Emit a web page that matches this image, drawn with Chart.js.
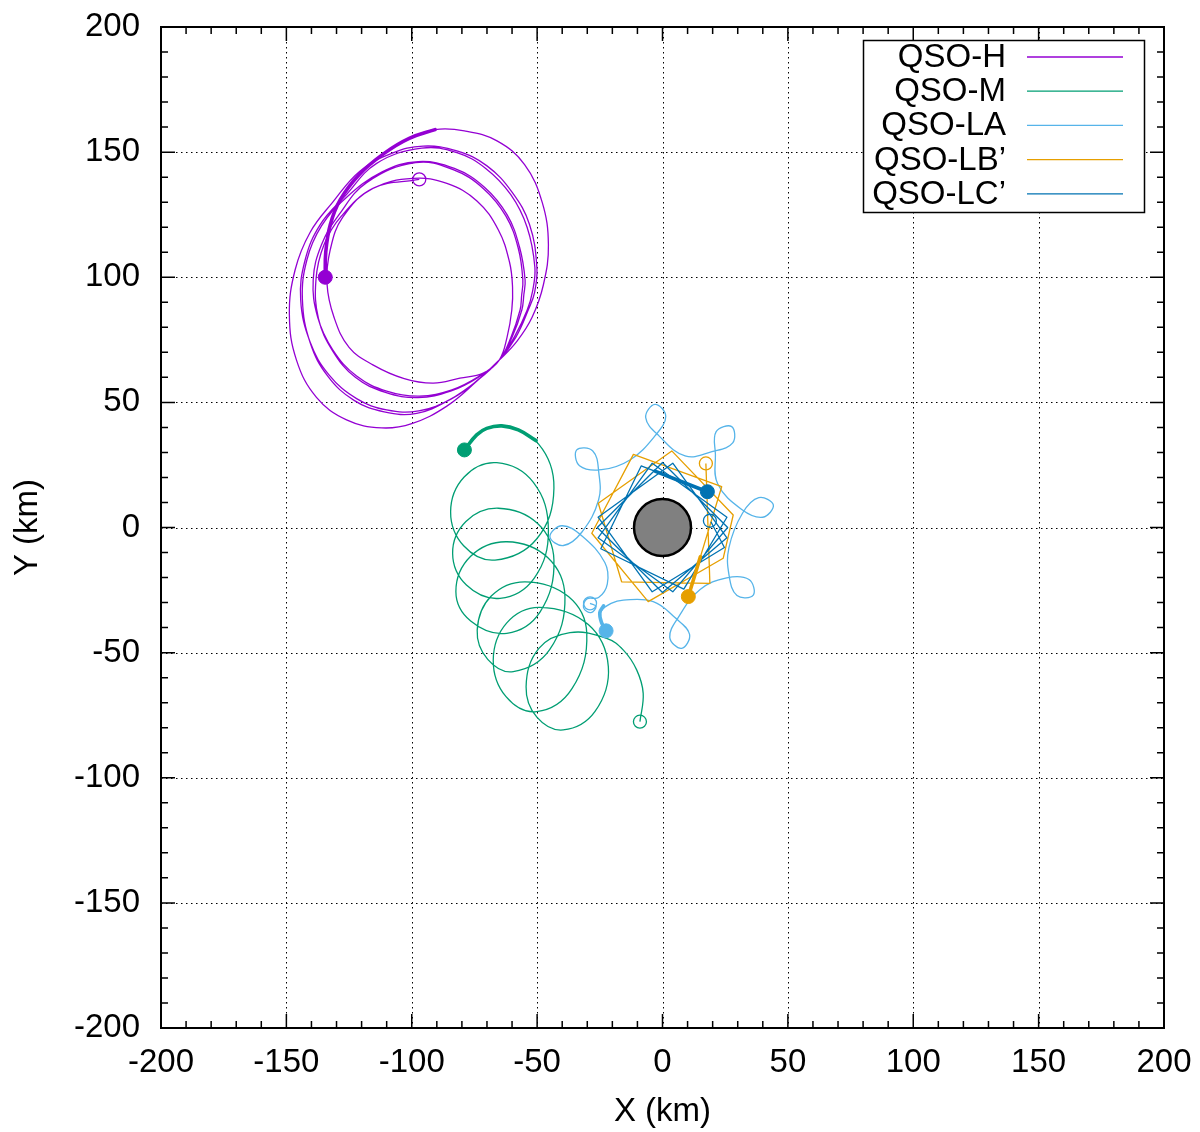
<!DOCTYPE html>
<html><head><meta charset="utf-8">
<style>html,body{margin:0;padding:0;background:#fff}canvas{display:block}</style>
<script src="https://cdn.jsdelivr.net/npm/chart.js@4.4.1/dist/chart.umd.min.js"></script>
</head><body>
<canvas id="c" width="1200" height="1132"></canvas>
<script>
// ---------- data ----------
const tickValues = [-200,-150,-100,-50,0,50,100,150,200];
const seriesNames = ['QSO-H','QSO-M','QSO-LA','QSO-LB\u2019','QSO-LC\u2019'];
const seriesColors = ['#9400D3','#009E73','#56B4E9','#E69F00','#0072B2'];

// QSO-H (purple)
const hX = [-134.5,-134.3,-132.5,-128.5,-121,-111,-101,-90.7,
 -79,-66,-55,-48,-45.5,-47.5,-52,-58,-65.1,-74,-86,-100,-112,-126,-138,-146,-148.8,-146.5,-140.5,-131.5,
 -120.7,-108,-95.5,-82,-70,-60,-53,-50.1,-51,-53.5,-58.5,-65.1,-73,-84,-97.2,-110,-122,-133,-140.5,-144.3,-142.5,-136.5,
 -126.5,-114,-96,-82,-70.5,-60.5,-54,-50.9,-51.8,-54,-59,-65.1,-73.5,-85,-98,-111,-123,-133.5,-140.5,-143.6,-141.8,-136,
 -126.5,-112,-97.5,-83,-71,-62,-57,-54.8,-55.3,-56.1,-60,-65.1,-73,-84,-97,-110,-122,-131.5,-137.5,-139.3,-136,-129,
 -118,-98.5,-83.5,-71.5,-62.5,-57.5,-55.7,-56.2,-56.8,-60.5,-65.1,-73.5,-84.5,-97.5,-110.5,-122.5,-131.5,-137.2,-138.2,-135,-128,
 -115.5,-99.5,-86,-74,-65.5,-61,-59.8,-60.1,-62,-65.1,-71.5,-80.8,-91.4,-103,-115.5,-125,-131,-133.8,-132.5,-127.5,-115.5,-97];
const hY = [100,110,121,131,141,149.5,155.5,159,
 158.5,154.5,145,130,113,97,84,74.5,66.9,58.5,48.5,41.5,39.8,43,52,67,85,103,118,130,
 142.4,149.5,152.4,150.5,144.5,134,121,104,94,87,76,66.9,59.5,51.5,46.6,47,51.5,61,74,91,107,121,
 132.5,145.5,151.6,149.8,143.5,133,120,104,94.5,86.8,76.3,66.9,59,51,45.6,46.2,50.8,60.5,73.8,91,107,120.5,
 131.5,142,146.2,143.5,136,125,112,99,93,86.9,76,66.9,60.5,55,52.5,54.5,60.5,71,84,99,113,125,
 137.8,145.8,143,135.5,124.5,111.5,99,92.5,86.9,75.8,66.9,60,54.5,51.9,54,60,70.5,83.5,99,113,124.5,
 135.5,139.5,137.5,130.5,119,106,96,86.9,76,66.9,61.7,59.7,57.7,59.5,65,72,84,97.5,111,124,135.5,139.1];
const hThickX = [-134.5,-134.3,-132.5,-128.5,-121,-111,-101,-90.7];
const hThickY = [100,110,121,131,141,149.5,155.5,159];

// QSO-M (green)
const mX = [-79,-74.1,-64.1,-49.4,
 -43.3,-50.2,-66.8,-79.3,-84.5,-79.1,
 -66.1,-51.5,-45.5,-51.2,-64.8,-78.2,-83.7,-78.4,
 -65.5,-49.8,-43.3,-48.8,-62.1,-76.5,-82.4,-76.5,
 -62.1,-45.7,-38.9,-45,-59.5,-69.7,-73.9,-68.3,
 -54.8,-37.4,-30.2,-36.1,-50.2,-62.4,-67.5,-62.1,
 -48.9,-29.6,-21.6,-26.9,-39.6,-50.1,-54.4,-49.3,
 -36.9,-22.3,-15.6,-10.3,-7.7,-9];
const mY = [31,37,40.6,33.3,
 15.7,-4.6,-13,-7.3,6.3,20.2,
 25.9,18,-1,-20.3,-28.3,-23,-10.3,2.4,
 7.7,1.6,-13,-33.7,-42.3,-37.4,-25.6,-11.5,
 -5.7,-12.1,-27.7,-48.8,-57.6,-52.7,-41,-27.4,
 -21.7,-27.7,-42.3,-64.4,-73.6,-67.6,-53,-38.1,
 -31.9,-38.8,-55.6,-73.5,-80.9,-75.8,-63.6,-48.3,
 -42,-44.3,-49,-56.9,-66.3,-77.6];
const mThickX = [-79,-74.1,-70.1,-64.1,-57.5,-50.4];
const mThickY = [31,37,39.6,40.6,39,34.7];

// QSO-LA (sky blue)
const laX = [-22.5,-24.5,-24.5,-20.5,-15.6,-3.7,
 4.85,10.8,7.6,2.9,6.5, 15,
 25.6,34.5,36.2,29.7,26.5, 26.5,
 31.9,38.4,44.2,40,31.6, 22,
 21.1,21.4,27.6,28,19.7, 9,
 -1.4,-6.7,-3,1.3,-3.1, -13,
 -24.3,-33.1,-34.2,-27.8,-25.4, -25.5,
 -32.2,-39.5,-44.9,-40.1,-32.1, -23,
 -22,-25.5,-30,-31.5,-28.5,-26.5,-28.9];
const laY = [-41.3,-37.5,-33.5,-30.3,-29,-29.6,
 -35.9,-42.7,-48.3,-43.9,-35.6, -24.8,
 -20.1,-20.8,-27,-27.2,-18.8, -8,
 5.7,11.9,9,4.1,7.2, 17.5,
 29.3,38.3,40.3,33.8,30.3, 28.6,
 36.6,43.9,49.2,44.4,36.5, 27,
 23.1,24.7,31,30.6,21.9, 11,
 -1.9,-7.2,-3.7,0.7,-3.4, -14,
 -22.5,-28,-28.5,-32,-34,-31.5,-30.3];
const laThickX = [-22.5,-24.3,-25,-23.5];
const laThickY = [-41.3,-38,-34,-31.3];

// QSO-LB' (orange)
const lbX = [10.3,23.6,-11.6,-28.2,-5.7,24.2,28.2,3.7,-25.6,-16.3,18.9,17.3];
const lbY = [-27.6,16.3,29.2,-2.3,-29.6,-12.3,5,30.6,9.7,-21.7,-22.3,25.6];
const lbThickX = [10.3,15.1];
const lbThickY = [-27.6,-11.7];

// QSO-LC' (blue)
const lcX = [17.9,-8.5,-24.6,8.5,25.7,-4.1,-25.7,4.1,26,0,-26,0,25.7,4.1,-25.7,-4.1,24.7,19.3];
const lcY = [14.3,24.6,-8.5,-24.6,4.1,25.7,-4.1,-25.7,0,26,0,-26,-4.1,25.7,4.1,-25.7,-8,2.3];
const lcThickX = [17.9,-3];
const lcThickY = [14.3,22.5];

// start (filled) and end (open) markers, order as seriesNames
const startX = [-134.5,-79,-22.5,10.3,17.9];
const startY = [100,31,-41.3,-27.6,14.3];
const endX = [-97,-9,-28.9,17.3,18.9];
const endY = [139.1,-77.6,-30.3,25.6,2.7];

// central body
const bodyX = [0];
const bodyY = [0];

// ---------- build ----------
function pts(xs, ys){ return xs.map((x,i)=>({x:x, y:ys[i]})); }
const FONT = "'Liberation Sans', Arial, Helvetica, sans-serif";

const thin = [[hX,hY,0.4],[mX,mY,0.4],[laX,laY,0.4],[lbX,lbY,0],[lcX,lcY,0]];
const thick = [[hThickX,hThickY],[mThickX,mThickY],[laThickX,laThickY],[lbThickX,lbThickY],[lcThickX,lcThickY]];
const lineOrder = [9,8,7,6,5];

const datasets = [];
thin.forEach((s,i)=>{
  datasets.push({label:seriesNames[i], data:pts(s[0],s[1]), showLine:true, borderColor:seriesColors[i],
    backgroundColor:seriesColors[i], borderWidth:1.3, pointRadius:0, pointHoverRadius:0, tension:s[2],
    borderJoinStyle:'round', fill:false, order:lineOrder[i]});
});
thick.forEach((s,i)=>{
  datasets.push({label:seriesNames[i]+' thick', data:pts(s[0],s[1]), showLine:true, borderColor:seriesColors[i],
    borderWidth:3.6, pointRadius:0, pointHoverRadius:0, tension:0.4, borderCapStyle:'round', fill:false, order:3});
});
datasets.push({label:'body', data:pts(bodyX,bodyY), showLine:false, pointRadius:28.5, pointHoverRadius:28.5,
  pointBackgroundColor:'#808080', pointBorderColor:'#000', pointBorderWidth:2.5, order:2});
datasets.push({label:'start', data:pts(startX,startY), showLine:false, pointRadius:7, pointHoverRadius:7,
  pointBackgroundColor:seriesColors, pointBorderColor:seriesColors, pointBorderWidth:1, order:1});
datasets.push({label:'end', data:pts(endX,endY), showLine:false, pointRadius:6.5, pointHoverRadius:6.5,
  pointBackgroundColor:'rgba(0,0,0,0)', pointBorderColor:seriesColors, pointBorderWidth:1.3, order:0});

// fix the plotting frame exactly
const geomPlugin = {
  id:'geom',
  afterLayout(chart){
    const L=161, T=27, R=1164, B=1028, H=chart.height;
    const a = chart.chartArea;
    a.left=L; a.top=T; a.right=R; a.bottom=B; a.width=R-L; a.height=B-T;
    const x = chart.scales.x, y = chart.scales.y;
    x.left=L; x.right=R; x.width=R-L; x.top=B; x.bottom=H; x.height=H-B; x.configure(); x._labelItems=null; x._gridLineItems=null;
    y.left=0; y.right=L; y.width=L; y.top=T; y.bottom=B; y.height=B-T; y.configure(); y._labelItems=null; y._gridLineItems=null;
  }
};

const framePlugin = {
  id:'frame',
  beforeDatasetsDraw(chart){
    const {ctx, chartArea:a, scales:{x,y}} = chart;
    ctx.save();
    ctx.strokeStyle='#000'; ctx.lineWidth=1; ctx.setLineDash([1.5,3.5]);
    tickValues.forEach(v=>{
      if (v===-200 || v===200) return;
      const px = Math.round(x.getPixelForValue(v))+0.5;
      ctx.beginPath(); ctx.moveTo(px,a.top); ctx.lineTo(px,a.bottom); ctx.stroke();
      const py = Math.round(y.getPixelForValue(v))+0.5;
      ctx.beginPath(); ctx.moveTo(a.left,py); ctx.lineTo(a.right,py); ctx.stroke();
    });
    ctx.restore();
  },
  afterDraw(chart){
    const {ctx, chartArea:a, scales:{x,y}} = chart;
    ctx.save();
    ctx.setLineDash([]);
    ctx.strokeStyle='#000';
    ctx.lineWidth=1.5;
    const minorStep = 10;
    for (let v=-200; v<=200; v+=minorStep){
      const major = tickValues.indexOf(v) >= 0;
      const L = major ? 14 : 7;
      const px = x.getPixelForValue(v), py = y.getPixelForValue(v);
      ctx.beginPath();
      ctx.moveTo(px,a.bottom); ctx.lineTo(px,a.bottom-L);
      ctx.moveTo(px,a.top); ctx.lineTo(px,a.top+L);
      ctx.moveTo(a.left,py); ctx.lineTo(a.left+L,py);
      ctx.moveTo(a.right,py); ctx.lineTo(a.right-L,py);
      ctx.stroke();
    }
    ctx.lineWidth=2;
    ctx.strokeRect(a.left, a.top, a.right-a.left, a.bottom-a.top);
    // legend
    const bx0=863, by0=40, bx1=1144, by1=212;
    ctx.fillStyle='#fff'; ctx.fillRect(bx0,by0,bx1-bx0,by1-by0);
    ctx.lineWidth=1.5; ctx.strokeRect(bx0+0.5,by0+0.5,bx1-bx0,by1-by0);
    ctx.font = '33px ' + FONT;
    ctx.textAlign='right'; ctx.textBaseline='middle';
    seriesNames.forEach((n,i)=>{
      const ry = 57 + i*34.2;
      ctx.fillStyle='#000';
      ctx.fillText(n, 1006, ry+1);
      ctx.strokeStyle=seriesColors[i]; ctx.lineWidth=1.3;
      ctx.beginPath(); ctx.moveTo(1027,ry); ctx.lineTo(1123,ry); ctx.stroke();
    });
    ctx.restore();
  }
};

function zeroPad(s){ s.paddingLeft = 0; s.paddingRight = 0; s.paddingTop = 0; s.paddingBottom = 0; }

new Chart(document.getElementById('c'), {
  type:'scatter',
  data:{datasets:datasets},
  plugins:[geomPlugin, framePlugin],
  options:{
    responsive:false, animation:false, devicePixelRatio:1, events:[],
    layout:{padding:{top:27,right:36,left:0,bottom:0}},
    plugins:{legend:{display:false}, tooltip:{enabled:false}},
    scales:{
      x:{type:'linear', position:'bottom', min:-200, max:200,
        afterBuildTicks:s=>{ s.ticks = tickValues.map(v=>({value:v})); },
        afterFit:s=>{ s.height = 104; zeroPad(s); },
        grid:{display:false, drawTicks:false}, border:{display:false},
        ticks:{font:{family:FONT,size:33}, color:'#000', padding:15, maxRotation:0, autoSkip:false},
        title:{display:true, text:'X (km)', font:{family:FONT,size:33}, color:'#000', padding:{top:0,bottom:0}}},
      y:{type:'linear', position:'left', min:-200, max:200,
        afterBuildTicks:s=>{ s.ticks = tickValues.map(v=>({value:v})); },
        afterFit:s=>{ s.width = 161; zeroPad(s); },
        grid:{display:false, drawTicks:false}, border:{display:false},
        ticks:{font:{family:FONT,size:33}, color:'#000', padding:21, autoSkip:false},
        title:{display:true, text:'Y (km)', font:{family:FONT,size:33}, color:'#000', padding:{top:8,bottom:0}}}
    }
  }
});
</script>
</body></html>
